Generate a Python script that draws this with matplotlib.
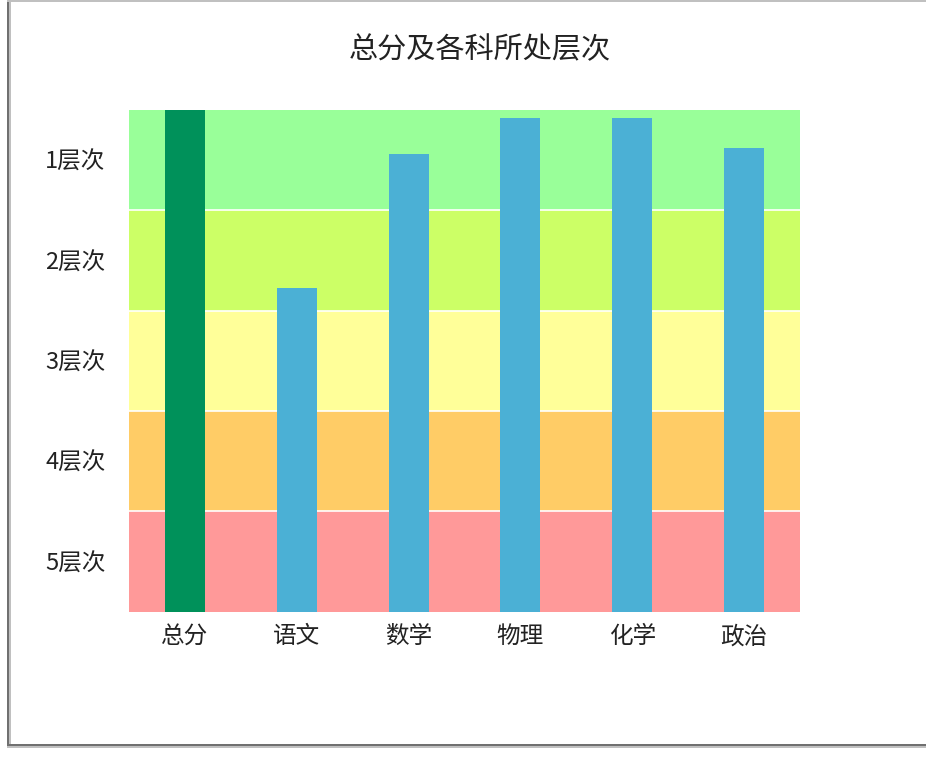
import matplotlib
matplotlib.use("Agg")
import matplotlib.pyplot as plt
from matplotlib.patches import Rectangle

plt.rcParams['font.family'] = ['Noto Sans CJK SC', 'DejaVu Sans']

title = "总分及各科所处层次"
categories = ["总分", "语文", "数学", "物理", "化学", "政治"]
values = [100, 64.5, 91.2, 98.4, 98.4, 92.4]
bar_colors = ["#00915A", "#4BB0D5", "#4BB0D5", "#4BB0D5", "#4BB0D5", "#4BB0D5"]
band_edges = [0, 20, 40, 60, 80, 100]
band_colors = ["#FF9999", "#FFCC66", "#FFFF99", "#CCFF66", "#99FF99"]
level_labels = ["5层次", "4层次", "3层次", "2层次", "1层次"]

fig = plt.figure(figsize=(9.26, 7.76), dpi=100)
ax = fig.add_axes([129/926, 1-611.5/776, 671/926, 501.5/776])

n = len(categories)
for i in range(len(band_colors)):
    ax.axhspan(band_edges[i], band_edges[i+1], color=band_colors[i], lw=0, zorder=0)
for e in band_edges[1:-1]:
    ax.axhline(e, color="white", lw=1.2, zorder=1)

x = list(range(n))
ax.bar(x, values, width=0.357, color=bar_colors, zorder=2, lw=0)

ax.set_xlim(-0.5, n-0.5)
ax.set_ylim(0, 100)
ax.set_xticks(x)
ax.set_xticklabels(categories, fontsize=17)
centers = [(band_edges[i]+band_edges[i+1])/2 for i in range(len(level_labels))]
ax.set_yticks(centers)
ax.set_yticklabels(level_labels, fontsize=17)
ax.tick_params(length=0, colors="#222222")
ax.tick_params(axis='x', pad=10)
ax.tick_params(axis='y', pad=17)
for s in ax.spines.values():
    s.set_visible(False)

fig.text(480/926, 1-50/776, title, ha="center", va="center", fontsize=21, color="#222222")

# outer frame
def frame(x0, y0, w, h, c):
    fig.patches.append(Rectangle((x0/926, 1-(y0+h)/776), w/926, h/776,
                                 transform=fig.transFigure, color=c, lw=0))

frame(9, 0, 2, 748, "#C0C0C0")
frame(7, 0, 2, 746, "#707070")
frame(7, 746, 919, 2, "#C0C0C0")
frame(7, 744, 919, 2, "#707070")
frame(7, 0, 919, 1.5, "#C0C0C0")

fig.savefig("out.png", dpi=100)
